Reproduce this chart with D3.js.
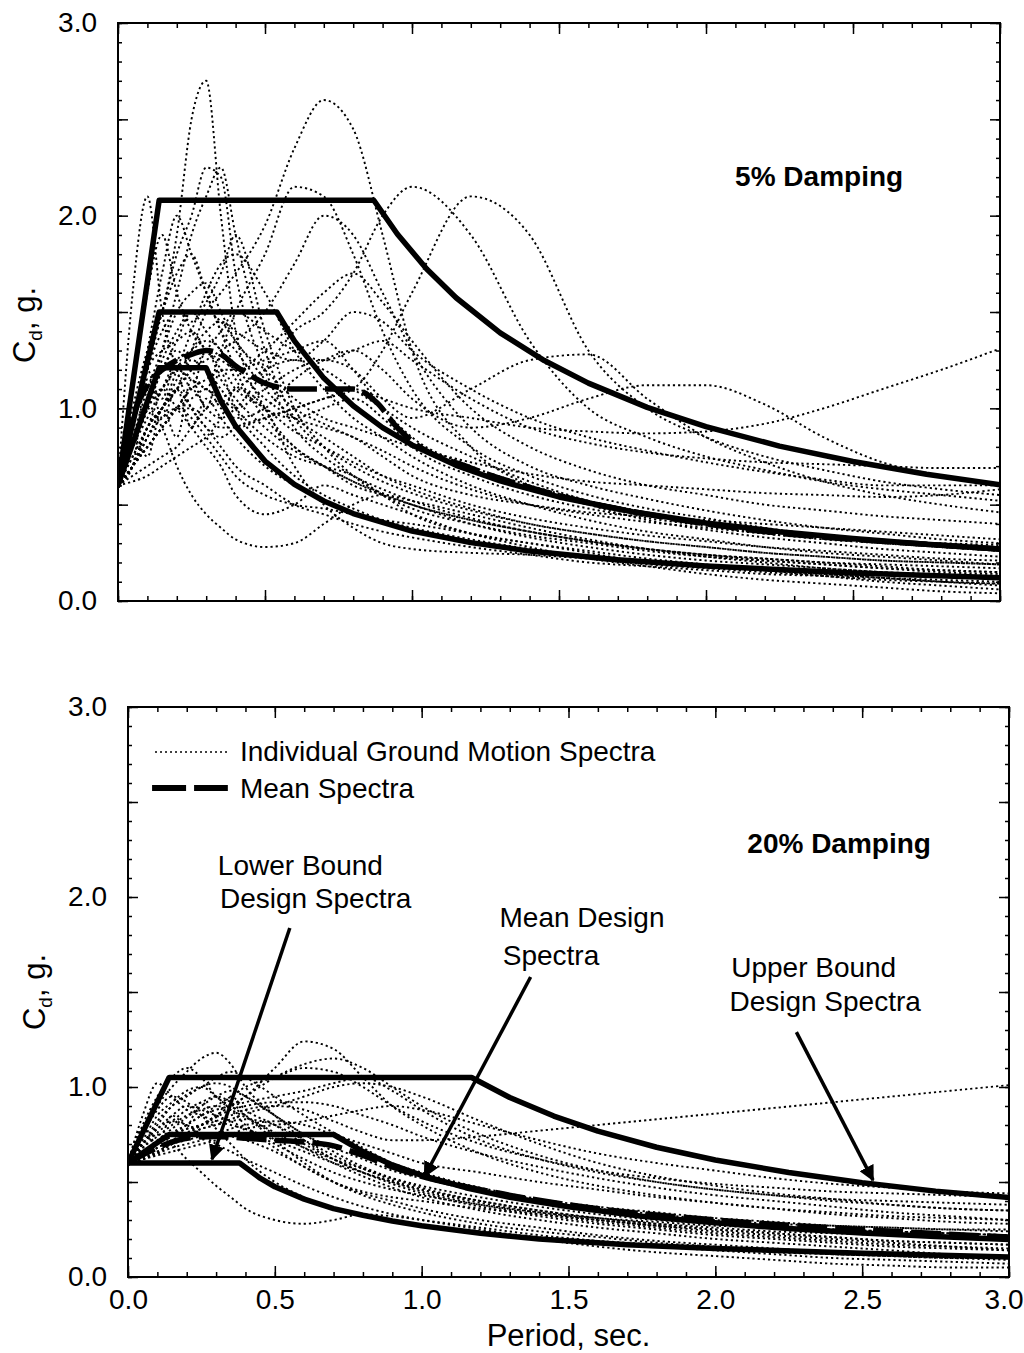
<!DOCTYPE html>
<html><head><meta charset="utf-8">
<script src="https://cdn.jsdelivr.net/npm/d3@7"></script>
<style>
body{margin:0;background:#fff}
svg{display:block}
text{font-family:"Liberation Sans",Arial,Helvetica,sans-serif;fill:#000}
</style>
</head><body>
<svg id="chart" width="1024" height="1353"></svg>
<script>
// ---------------- DATA ----------------
const periods = [0,0.05,0.1,0.15,0.2,0.25,0.3,0.35,0.4,0.5,0.6,0.7,0.8,0.9,1.0,1.2,1.4,1.6,1.8,2.0,2.2,2.4,2.6,2.8,3.0];

// individual ground motion spectra, 5% damping (values at `periods`)
const spectra5 = [
 [0.6,0.9,1.3,1.5,1.9,2.5,2.7,2.0,1.4,1.0,0.8,0.7,0.6,0.55,0.5,0.4,0.33,0.28,0.24,0.21,0.19,0.17,0.15,0.14,0.13],
 [0.6,0.7,0.9,1.0,1.1,1.3,1.5,1.6,1.7,1.95,2.35,2.6,2.45,1.9,1.3,0.8,0.6,0.5,0.42,0.37,0.33,0.3,0.27,0.25,0.23],
 [0.6,0.8,1.0,1.2,1.3,1.2,1.1,1.3,1.5,1.8,2.15,2.1,1.8,1.4,1.1,0.8,0.65,0.55,0.48,0.43,0.38,0.34,0.31,0.28,0.26],
 [0.6,0.7,0.8,0.9,1.0,1.1,1.0,0.95,1.0,1.2,1.4,1.5,1.7,2.0,2.15,1.9,1.35,1.0,0.85,0.75,0.68,0.62,0.58,0.55,0.52],
 [0.6,0.7,0.9,1.0,1.1,1.0,0.9,0.85,0.9,0.95,1.0,1.05,1.1,1.3,1.6,2.1,1.9,1.3,1.0,0.85,0.75,0.68,0.62,0.58,0.55],
 [0.6,0.7,0.85,0.95,1.0,1.0,0.95,0.9,0.9,0.95,1.0,1.05,1.1,1.05,1.0,0.95,0.9,0.88,0.87,0.88,0.92,1.0,1.1,1.2,1.31],
 [0.6,0.8,1.0,1.1,1.2,1.15,1.1,1.05,1.0,1.1,1.2,1.25,1.2,1.05,0.95,1.1,1.25,1.28,1.05,0.85,0.72,0.62,0.55,0.5,0.46],
 [0.6,0.7,0.8,0.9,1.0,1.05,1.1,1.0,0.95,1.0,1.15,1.25,1.3,1.2,1.05,0.9,0.95,1.05,1.12,1.12,1.02,0.85,0.72,0.65,0.6],
 [0.6,0.9,1.2,1.5,1.8,2.0,2.25,2.2,1.7,1.2,0.9,0.75,0.65,0.58,0.52,0.43,0.36,0.31,0.27,0.24,0.22,0.2,0.18,0.16,0.15],
 [0.6,1.6,2.1,1.5,1.2,1.0,0.9,0.8,0.7,0.6,0.5,0.45,0.4,0.36,0.33,0.28,0.24,0.2,0.18,0.16,0.14,0.13,0.12,0.11,0.1],
 [0.6,1.1,1.6,1.9,1.6,1.4,1.3,1.2,1.0,0.8,0.65,0.55,0.48,0.42,0.38,0.32,0.27,0.23,0.2,0.18,0.16,0.15,0.14,0.13,0.12],
 [0.6,1.0,1.3,1.5,1.7,1.8,1.6,1.4,1.3,1.1,0.95,0.85,0.75,0.65,0.58,0.48,0.4,0.35,0.31,0.28,0.25,0.23,0.21,0.2,0.19],
 [0.6,0.62,0.65,0.7,0.75,0.8,0.85,0.95,1.1,1.0,0.7,0.5,0.38,0.3,0.27,0.25,0.24,0.22,0.2,0.18,0.16,0.14,0.12,0.1,0.08],
 [0.6,0.9,1.2,1.4,1.5,1.45,1.55,1.7,1.9,1.4,1.0,0.8,0.65,0.55,0.48,0.4,0.34,0.3,0.26,0.23,0.21,0.19,0.17,0.16,0.15],
 [0.6,0.8,1.0,1.2,1.35,1.5,1.4,1.3,1.2,1.25,1.3,1.35,1.2,1.0,0.85,0.7,0.6,0.52,0.46,0.41,0.37,0.34,0.31,0.29,0.27],
 [0.6,0.75,0.9,1.1,1.25,1.3,1.35,1.3,1.15,1.0,0.95,1.0,1.05,0.95,0.8,0.65,0.55,0.48,0.43,0.39,0.35,0.32,0.3,0.28,0.26],
 [0.6,0.7,0.85,1.0,1.1,1.2,1.25,1.3,1.35,1.5,1.75,2.0,1.9,1.6,1.3,0.9,0.7,0.6,0.53,0.47,0.42,0.38,0.35,0.32,0.3],
 [0.6,0.7,0.8,0.9,1.0,1.1,1.15,1.2,1.2,1.3,1.45,1.6,1.7,1.55,1.35,1.0,0.8,0.68,0.6,0.55,0.5,0.47,0.44,0.42,0.4],
 [0.6,0.8,1.0,1.1,1.0,0.9,0.8,0.7,0.55,0.45,0.5,0.6,0.55,0.5,0.45,0.35,0.3,0.25,0.2,0.18,0.16,0.14,0.12,0.1,0.09],
 [0.6,0.9,1.2,1.3,1.35,1.4,1.3,1.25,1.2,1.05,0.95,0.9,0.85,0.75,0.65,0.55,0.5,0.46,0.44,0.42,0.4,0.38,0.36,0.34,0.32],
 [0.6,0.85,1.1,1.3,1.5,1.6,1.65,1.5,1.35,1.2,1.05,0.95,0.9,0.85,0.8,0.72,0.66,0.62,0.6,0.58,0.56,0.55,0.54,0.55,0.58],
 [0.6,0.75,0.9,1.0,1.1,1.2,1.3,1.4,1.5,1.4,1.3,1.25,1.3,1.35,1.25,1.05,0.9,0.82,0.77,0.74,0.72,0.71,0.7,0.69,0.69],
 [0.6,0.8,0.95,1.1,1.2,1.25,1.2,1.1,1.0,0.85,0.75,0.7,0.65,0.55,0.45,0.35,0.28,0.22,0.18,0.14,0.11,0.09,0.07,0.05,0.04],
 [0.6,0.7,0.9,1.0,1.2,1.4,1.6,1.75,1.8,1.6,1.3,1.1,0.95,0.85,0.75,0.6,0.5,0.42,0.36,0.32,0.28,0.25,0.23,0.21,0.19],
 [0.6,0.65,0.7,0.75,0.8,0.9,1.0,1.05,1.1,1.2,1.25,1.2,1.1,1.0,0.9,0.75,0.62,0.52,0.45,0.4,0.36,0.33,0.3,0.28,0.26],
 [0.6,0.8,1.0,0.9,0.7,0.55,0.45,0.38,0.32,0.28,0.3,0.4,0.5,0.55,0.52,0.45,0.38,0.32,0.27,0.23,0.2,0.17,0.15,0.13,0.12],
 [0.6,0.7,0.8,0.9,1.0,0.95,0.85,0.75,0.65,0.55,0.5,0.48,0.45,0.42,0.4,0.35,0.3,0.26,0.22,0.19,0.16,0.13,0.1,0.08,0.06],
 [0.6,0.9,1.3,1.7,2.0,1.8,1.6,1.4,1.2,0.95,0.8,0.7,0.62,0.56,0.5,0.42,0.36,0.31,0.27,0.24,0.22,0.2,0.19,0.18,0.17],
 [0.6,0.8,1.0,1.3,1.6,1.9,2.1,2.25,1.9,1.3,0.95,0.8,0.7,0.62,0.56,0.47,0.4,0.35,0.31,0.28,0.25,0.23,0.21,0.2,0.19],
 [0.6,0.7,0.85,1.0,1.15,1.3,1.4,1.45,1.4,1.3,1.25,1.35,1.5,1.45,1.3,1.1,0.95,0.85,0.78,0.72,0.67,0.63,0.6,0.6,0.6],
 [0.6,0.8,1.05,1.25,1.4,1.5,1.5,1.45,1.35,1.15,1.0,0.92,0.85,0.78,0.7,0.58,0.5,0.45,0.41,0.38,0.35,0.33,0.31,0.3,0.29],
 [0.6,0.95,1.15,1.05,1.25,1.1,1.3,1.15,1.05,0.9,0.78,0.7,0.62,0.55,0.5,0.42,0.36,0.31,0.27,0.24,0.21,0.19,0.17,0.15,0.14],
 [0.6,0.7,1.2,0.95,1.1,0.9,1.05,0.95,0.85,0.7,0.6,0.52,0.46,0.41,0.37,0.31,0.26,0.22,0.19,0.17,0.15,0.13,0.11,0.1,0.09],
 [0.6,0.85,0.75,1.0,0.85,1.15,1.0,1.2,1.1,1.0,0.88,0.8,0.72,0.65,0.6,0.5,0.43,0.38,0.34,0.31,0.28,0.26,0.24,0.22,0.21]
];

// individual ground motion spectra, 20% damping (values at `periods`)
const spectra20 = [
 [0.6,0.62,0.65,0.7,0.75,0.8,0.85,0.9,0.95,1.1,1.24,1.2,1.05,0.9,0.8,0.65,0.55,0.48,0.43,0.39,0.36,0.33,0.31,0.29,0.28],
 [0.6,0.75,0.9,1.0,1.08,1.15,1.18,1.12,1.0,0.85,0.72,0.62,0.55,0.5,0.45,0.38,0.33,0.29,0.26,0.23,0.21,0.19,0.17,0.16,0.15],
 [0.6,0.65,0.7,0.75,0.78,0.8,0.82,0.85,0.88,0.9,0.88,0.82,0.76,0.72,0.72,0.74,0.77,0.8,0.83,0.86,0.89,0.92,0.95,0.98,1.01],
 [0.6,0.63,0.68,0.72,0.76,0.8,0.85,0.9,0.95,1.05,1.12,1.15,1.1,1.0,0.9,0.75,0.64,0.56,0.5,0.46,0.43,0.41,0.4,0.39,0.38],
 [0.6,0.8,0.95,1.05,1.1,1.05,0.95,0.9,0.85,0.75,0.68,0.62,0.57,0.52,0.48,0.42,0.37,0.33,0.3,0.28,0.26,0.25,0.24,0.23,0.22],
 [0.6,0.85,1.02,0.95,0.88,0.85,0.82,0.8,0.78,0.72,0.66,0.6,0.55,0.5,0.46,0.4,0.35,0.31,0.28,0.25,0.23,0.21,0.19,0.18,0.17],
 [0.6,0.62,0.66,0.7,0.74,0.78,0.8,0.83,0.86,0.9,0.95,1.0,1.02,1.0,0.95,0.82,0.7,0.6,0.53,0.48,0.44,0.41,0.38,0.36,0.35],
 [0.6,0.7,0.75,0.7,0.62,0.55,0.48,0.42,0.36,0.3,0.28,0.3,0.33,0.32,0.3,0.26,0.22,0.19,0.16,0.14,0.12,0.1,0.09,0.08,0.07],
 [0.6,0.7,0.8,0.9,0.95,1.0,1.02,1.0,0.95,0.85,0.75,0.68,0.62,0.56,0.52,0.45,0.4,0.36,0.33,0.3,0.28,0.27,0.26,0.25,0.25],
 [0.6,0.68,0.76,0.82,0.88,0.92,0.95,0.92,0.85,0.72,0.6,0.5,0.43,0.38,0.34,0.28,0.24,0.21,0.18,0.16,0.14,0.12,0.11,0.1,0.09],
 [0.6,0.65,0.7,0.76,0.8,0.85,0.88,0.9,0.92,0.95,0.98,1.02,1.05,0.98,0.88,0.72,0.62,0.55,0.5,0.46,0.43,0.4,0.38,0.36,0.35],
 [0.6,0.72,0.85,0.92,0.98,1.0,0.95,0.88,0.8,0.68,0.58,0.5,0.45,0.42,0.4,0.36,0.33,0.3,0.27,0.24,0.22,0.2,0.18,0.16,0.14],
 [0.6,0.64,0.7,0.75,0.8,0.85,0.9,0.95,1.0,1.05,1.1,1.08,1.0,0.9,0.82,0.7,0.62,0.56,0.52,0.49,0.47,0.45,0.44,0.43,0.42],
 [0.6,0.7,0.78,0.85,0.9,0.88,0.85,0.82,0.78,0.7,0.62,0.55,0.5,0.46,0.43,0.38,0.34,0.31,0.29,0.27,0.26,0.25,0.24,0.23,0.22],
 [0.6,0.62,0.64,0.66,0.68,0.7,0.72,0.75,0.78,0.8,0.82,0.85,0.88,0.9,0.88,0.8,0.72,0.65,0.6,0.56,0.52,0.49,0.47,0.45,0.44],
 [0.6,0.66,0.72,0.78,0.84,0.9,0.95,0.98,0.95,0.85,0.75,0.66,0.58,0.52,0.47,0.4,0.35,0.31,0.28,0.26,0.24,0.23,0.22,0.21,0.2],
 [0.6,0.75,0.88,0.95,0.92,0.85,0.78,0.7,0.62,0.5,0.42,0.36,0.32,0.29,0.27,0.24,0.21,0.19,0.17,0.15,0.13,0.12,0.11,0.1,0.1],
 [0.6,0.62,0.65,0.68,0.7,0.72,0.75,0.78,0.8,0.82,0.8,0.75,0.7,0.65,0.6,0.55,0.5,0.46,0.42,0.39,0.36,0.34,0.32,0.31,0.3],
 [0.6,0.68,0.74,0.8,0.85,0.88,0.9,0.88,0.84,0.76,0.68,0.6,0.53,0.47,0.42,0.35,0.3,0.26,0.23,0.2,0.18,0.16,0.14,0.12,0.11],
 [0.6,0.7,0.82,0.9,0.96,1.0,1.05,1.08,1.05,0.95,0.85,0.76,0.68,0.6,0.55,0.47,0.41,0.37,0.34,0.31,0.29,0.27,0.26,0.25,0.24],
 [0.6,0.63,0.66,0.7,0.72,0.74,0.75,0.74,0.72,0.66,0.58,0.5,0.44,0.4,0.36,0.3,0.26,0.22,0.19,0.17,0.15,0.13,0.12,0.11,0.1],
 [0.6,0.7,0.78,0.82,0.8,0.75,0.7,0.66,0.62,0.55,0.48,0.42,0.37,0.33,0.3,0.25,0.2,0.16,0.13,0.11,0.09,0.07,0.06,0.05,0.05],
 [0.6,0.66,0.7,0.74,0.78,0.8,0.84,0.88,0.9,0.92,0.92,0.9,0.85,0.8,0.74,0.65,0.58,0.52,0.47,0.43,0.4,0.37,0.34,0.32,0.3],
 [0.6,0.64,0.68,0.72,0.75,0.78,0.8,0.82,0.83,0.8,0.72,0.64,0.57,0.51,0.46,0.39,0.34,0.3,0.27,0.25,0.23,0.21,0.19,0.18,0.17],
 [0.6,0.78,0.7,0.85,0.8,0.92,0.85,0.95,0.88,0.8,0.7,0.62,0.55,0.49,0.44,0.37,0.32,0.28,0.25,0.22,0.2,0.18,0.16,0.15,0.14]
];

// mean spectra
const mean5Periods = [0,0.05,0.1,0.15,0.2,0.25,0.3,0.35,0.4,0.45,0.5,0.6,0.7,0.8,0.88,0.95,1.0,1.2,1.4,1.6,1.8,2.0,2.2,2.5,2.8,3.0];
const mean5Values  = [0.6,0.95,1.12,1.2,1.25,1.28,1.3,1.28,1.22,1.17,1.13,1.1,1.1,1.1,1.03,0.9,0.83,0.69,0.59,0.51,0.45,0.4,0.36,0.32,0.29,0.27];
const mean20Periods = [0,0.1,0.2,0.3,0.4,0.5,0.6,0.7,0.8,0.9,1.0,1.2,1.5,2.0,2.5,3.0];
const mean20Values  = [0.6,0.68,0.73,0.74,0.73,0.72,0.71,0.69,0.64,0.58,0.53,0.46,0.38,0.3,0.25,0.21];

// design spectra, 5% damping
const upper5Periods = [0,0.14,0.87,0.95,1.05,1.15,1.3,1.45,1.6,1.8,2.0,2.25,2.5,2.75,3.0];
const upper5Values  = [0.6,2.08,2.08,1.905,1.723,1.574,1.392,1.248,1.131,1.005,0.905,0.804,0.724,0.658,0.603];
const meanD5Periods = [0,0.14,0.54,0.6,0.7,0.8,0.9,1.0,1.15,1.3,1.5,1.75,2.0,2.25,2.5,2.75,3.0];
const meanD5Values  = [0.6,1.5,1.5,1.35,1.157,1.013,0.9,0.81,0.704,0.623,0.54,0.463,0.405,0.36,0.324,0.295,0.27];
const lower5Periods = [0,0.14,0.30,0.35,0.4,0.5,0.6,0.7,0.8,1.0,1.2,1.4,1.7,2.0,2.5,3.0];
const lower5Values  = [0.6,1.21,1.21,1.037,0.908,0.726,0.605,0.519,0.454,0.363,0.303,0.259,0.214,0.182,0.145,0.121];

// design spectra, 20% damping
const upper20Periods = [0,0.14,1.17,1.3,1.45,1.6,1.8,2.0,2.25,2.5,2.75,3.0];
const upper20Values  = [0.6,1.05,1.05,0.945,0.847,0.768,0.683,0.616,0.55,0.496,0.452,0.418];
const meanD20Periods = [0,0.14,0.7,0.8,0.9,1.0,1.15,1.3,1.5,1.75,2.0,2.25,2.5,2.75,3.0];
const meanD20Values  = [0.6,0.75,0.75,0.66,0.59,0.535,0.47,0.42,0.37,0.32,0.285,0.255,0.232,0.213,0.197];
const lower20Periods = [0,0.38,0.45,0.5,0.6,0.7,0.8,0.9,1.0,1.2,1.4,1.7,2.0,2.5,3.0];
const lower20Values  = [0.6,0.6,0.52,0.475,0.41,0.36,0.325,0.295,0.27,0.23,0.2,0.17,0.15,0.125,0.105];

// axis ticks
const xTickLabels = ["0.0","0.5","1.0","1.5","2.0","2.5","3.0"];
const yTickLabels = ["0.0","1.0","2.0","3.0"];

// ---------------- DRAW ----------------
const FONT = '"Liberation Sans",Arial,Helvetica,sans-serif';
const svg = d3.select('#chart');
const defs = svg.append('defs');
defs.append('marker').attr('id','arrow').attr('viewBox','0 0 10 10')
  .attr('refX',9).attr('refY',5).attr('markerWidth',4.5).attr('markerHeight',4.5)
  .attr('markerUnits','strokeWidth').attr('orient','auto')
  .append('path').attr('d','M0,0 L10,5 L0,10 Z').attr('fill','#000');

const zip = (T, V) => T.map((t,i)=>[t, V[i]]);

const panels = [
  {id:'p5', left:118, right:1000, top:23, bottom:601, spectra:spectra5,
   mean:zip(mean5Periods,mean5Values),
   designs:[zip(upper5Periods,upper5Values),zip(meanD5Periods,meanD5Values),zip(lower5Periods,lower5Values)],
   xLabels:false, yTitleShift:13},
  {id:'p20', left:128, right:1009, top:707, bottom:1277, spectra:spectra20,
   mean:zip(mean20Periods,mean20Values),
   designs:[zip(upper20Periods,upper20Values),zip(meanD20Periods,meanD20Values),zip(lower20Periods,lower20Values)],
   xLabels:true, yTitleShift:0}
];

panels.forEach(p => {
  const x = d3.scaleLinear().domain([0,3]).range([p.left,p.right]);
  const y = d3.scaleLinear().domain([0,3]).range([p.bottom,p.top]);
  p.x = x; p.y = y;
  const g = svg.append('g').attr('id',p.id);

  defs.append('clipPath').attr('id','clip-'+p.id).append('rect')
    .attr('x',p.left).attr('y',p.top).attr('width',p.right-p.left).attr('height',p.bottom-p.top);

  const plot = g.append('g').attr('clip-path','url(#clip-'+p.id+')');

  const smooth = d3.line().x(d=>x(d[0])).y(d=>y(d[1])).curve(d3.curveMonotoneX);
  const straight = d3.line().x(d=>x(d[0])).y(d=>y(d[1]));

  plot.selectAll('path.ind').data(p.spectra).join('path').attr('class','ind')
    .attr('d', vals => smooth(vals.map((v,i)=>[periods[i], v])))
    .attr('fill','none').attr('stroke','#000').attr('stroke-width',1.9)
    .attr('stroke-dasharray','2.2,3');

  plot.append('path').attr('d', smooth(p.mean))
    .attr('fill','none').attr('stroke','#000').attr('stroke-width',5.5)
    .attr('stroke-dasharray','30,8');

  plot.selectAll('path.design').data(p.designs).join('path').attr('class','design')
    .attr('d', straight).attr('fill','none').attr('stroke','#000')
    .attr('stroke-width',5.5).attr('stroke-linejoin','round').attr('stroke-linecap','round');

  // frame
  g.append('rect').attr('x',p.left).attr('y',p.top).attr('width',p.right-p.left).attr('height',p.bottom-p.top)
    .attr('fill','none').attr('stroke','#000').attr('stroke-width',2);

  const minorX = d3.range(0,31).map(i=>i/10);
  const majorX = d3.range(0,7).map(i=>i/2);
  const minorY = minorX, majorY = majorX;

  const styleAxis = sel => { sel.select('.domain').remove(); sel.selectAll('line').attr('stroke','#000').attr('stroke-width',1.5);
     sel.attr('font-size',28).attr('font-family',FONT); sel.selectAll('text').attr('fill','#000'); };

  // bottom
  g.append('g').attr('transform',`translate(0,${p.bottom})`)
    .call(d3.axisBottom(x).tickValues(minorX).tickSize(-5).tickFormat('')).call(styleAxis);
  const bx = g.append('g').attr('transform',`translate(0,${p.bottom})`)
    .call(d3.axisBottom(x).tickValues(majorX).tickSize(-11).tickPadding(12)
      .tickFormat((d,i)=> p.xLabels ? xTickLabels[i] : '')).call(styleAxis);
  // keep last label inside the page
  bx.selectAll('text').filter(d => d === 3).attr('text-anchor','end').attr('dx', 1024 - 1 - x(3));
  // top
  g.append('g').attr('transform',`translate(0,${p.top})`)
    .call(d3.axisTop(x).tickValues(minorX).tickSize(-5).tickFormat('')).call(styleAxis);
  g.append('g').attr('transform',`translate(0,${p.top})`)
    .call(d3.axisTop(x).tickValues(majorX).tickSize(-11).tickFormat('')).call(styleAxis);
  // left
  g.append('g').attr('transform',`translate(${p.left},0)`)
    .call(d3.axisLeft(y).tickValues(minorY).tickSize(-4).tickFormat('')).call(styleAxis);
  g.append('g').attr('transform',`translate(${p.left},0)`)
    .call(d3.axisLeft(y).tickValues(majorY).tickSize(-10).tickPadding(21)
      .tickFormat((d,i)=> i%2===0 ? yTickLabels[i/2] : '')).call(styleAxis);
  // right
  g.append('g').attr('transform',`translate(${p.right},0)`)
    .call(d3.axisRight(y).tickValues(minorY).tickSize(-4).tickFormat('')).call(styleAxis);
  g.append('g').attr('transform',`translate(${p.right},0)`)
    .call(d3.axisRight(y).tickValues(majorY).tickSize(-10).tickFormat('')).call(styleAxis);

  // y axis title
  const cy = (p.top+p.bottom)/2 + p.yTitleShift;
  const yt = g.append('text').attr('transform',`translate(${p.left-83},${cy}) rotate(-90)`)
    .attr('text-anchor','middle').attr('font-size',31);
  yt.append('tspan').text('C');
  yt.append('tspan').text('d').attr('font-size',19).attr('dy',7);
  yt.append('tspan').text(', g.').attr('dy',-7);
});

// ---------------- ANNOTATIONS ----------------
const P5 = panels[0], P20 = panels[1];

svg.append('text').attr('x',P5.x(2.099)).attr('y',P5.y(2.154)).attr('font-size',28)
  .attr('font-weight','bold').text('5% Damping');
svg.append('text').attr('x',P20.x(2.109)).attr('y',P20.y(2.232)).attr('font-size',28)
  .attr('font-weight','bold').text('20% Damping');

// legend
svg.append('line').attr('x1',P20.x(0.092)).attr('x2',P20.x(0.34)).attr('y1',P20.y(2.763)).attr('y2',P20.y(2.763))
  .attr('stroke','#000').attr('stroke-width',1.6).attr('stroke-dasharray','2,3');
svg.append('text').attr('x',P20.x(0.381)).attr('y',P20.y(2.716)).attr('font-size',28).text('Individual Ground Motion Spectra');
svg.append('line').attr('x1',P20.x(0.082)).attr('x2',P20.x(0.34)).attr('y1',P20.y(2.574)).attr('y2',P20.y(2.574))
  .attr('stroke','#000').attr('stroke-width',6).attr('stroke-dasharray','34,8');
svg.append('text').attr('x',P20.x(0.381)).attr('y',P20.y(2.521)).attr('font-size',28).text('Mean Spectra');

const notes = [
  {t:'Lower Bound', T:0.306, v:2.116},
  {t:'Design Spectra', T:0.313, v:1.942},
  {t:'Mean Design', T:1.265, v:1.842},
  {t:'Spectra', T:1.276, v:1.642},
  {t:'Upper Bound', T:2.054, v:1.579},
  {t:'Design Spectra', T:2.048, v:1.40}
];
svg.selectAll('text.note').data(notes).join('text').attr('class','note')
  .attr('x',d=>P20.x(d.T)).attr('y',d=>P20.y(d.v)).attr('font-size',28).text(d=>d.t);

const arrows = [
  {T1:0.551, v1:1.837, T2:0.286, v2:0.62},
  {T1:1.371, v1:1.579, T2:1.01, v2:0.53},
  {T1:2.276, v1:1.289, T2:2.537, v2:0.51}
];
svg.selectAll('line.arrow').data(arrows).join('line').attr('class','arrow')
  .attr('x1',d=>P20.x(d.T1)).attr('y1',d=>P20.y(d.v1)).attr('x2',d=>P20.x(d.T2)).attr('y2',d=>P20.y(d.v2))
  .attr('stroke','#000').attr('stroke-width',3.5).attr('marker-end','url(#arrow)');

// x axis title
svg.append('text').attr('x',(P20.left+P20.right)/2).attr('y',1346).attr('text-anchor','middle')
  .attr('font-size',31).text('Period, sec.');
</script>
</body></html>
